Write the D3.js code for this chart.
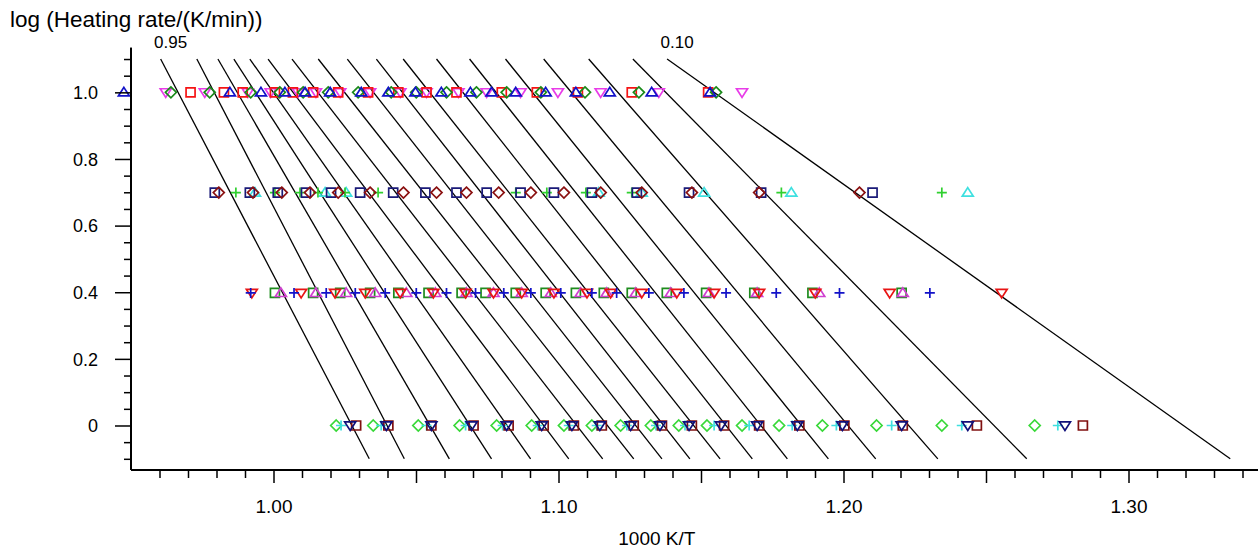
<!DOCTYPE html>
<html><head><meta charset="utf-8">
<script src="https://cdn.jsdelivr.net/npm/d3@7"></script>
<style>
body{margin:0;background:#fff}
svg{display:block}
text{font-family:"Liberation Sans",Arial,sans-serif;fill:#000}
</style></head>
<body><svg id="c" width="1258" height="552"></svg>
<script>
// ---------- data ----------
const conversions = ["0.95","0.90","0.85","0.80","0.75","0.70","0.65","0.60","0.55","0.50","0.45","0.40","0.35","0.30","0.25","0.20","0.15","0.10"];
// fitted iso-conversional lines: 1000/T where each line reaches log = 1.1 (top) and log = -0.1 (bottom)
const lineTopLog = 1.1, lineBottomLog = -0.1;
const lineTopX    = [0.9604,0.9731,0.9805,0.9861,0.9917,0.9981,1.0065,1.0157,1.0259,1.0361,1.0455,1.0572,1.0688,1.0814,1.0948,1.1106,1.1261,1.1381];
const lineBottomX = [1.0336,1.0459,1.0617,1.0765,1.0902,1.1036,1.1155,1.1264,1.1363,1.1461,1.1567,1.1680,1.1803,1.1947,1.2113,1.2331,1.2643,1.3357];
const labeledLines = ["0.95","0.10"];

const logRates = [1.0, 0.699, 0.398, 0.0];

// heating rate 10 K/min (log = 1.0)
const r10_square   = [0.9709,0.9826,0.9892,1.0005,1.0068,1.0139,1.0227,1.0332,1.0438,1.0537,1.0642,1.0801,1.0924,1.1068,1.1257,1.1525];
const r10_diamond  = [0.9640,0.9776,0.9920,1.0022,1.0104,1.0192,1.0297,1.0413,1.0501,1.0607,1.0712,1.0818,1.0938,1.1093,1.1282,1.1553];
const r10_triUp    = [0.9475,0.9847,0.9956,1.0040,1.0111,1.0199,1.0308,1.0403,1.0498,1.0589,1.0691,1.0765,1.0850,1.0955,1.1061,1.1180,1.1327,1.1532];
const r10_triDown  = [0.9622,0.9759,0.9910,0.9990,1.0086,1.0149,1.0234,1.0339,1.0445,1.0537,1.0649,1.0748,1.0867,1.0998,1.1148,1.1352,1.1644];
// heating rate 5 K/min (log = 0.699)
const r5_square    = [0.9794,0.9917,1.0015,1.0114,1.0202,1.0304,1.0420,1.0533,1.0642,1.0748,1.0867,1.0984,1.1117,1.1275,1.1458,1.1711,1.2102];
const r5_diamond   = [0.9808,0.9928,1.0029,1.0128,1.0227,1.0339,1.0456,1.0572,1.0677,1.0790,1.0903,1.1019,1.1148,1.1292,1.1468,1.1704,1.2056];
const r5_plus      = [0.9868,1.0005,1.0093,1.0156,1.0251,1.0367,1.0850,1.0959,1.1096,1.1257,1.1782,1.2345];
const r5_triUp     = [0.9935,1.0181,1.0255,1.1141,1.1292,1.1511,1.1817,1.2436];
// heating rate 2.5 K/min (log = 0.398)
const r25_square   = [1.0005,1.0139,1.0234,1.0339,1.0438,1.0544,1.0660,1.0744,1.0850,1.0955,1.1061,1.1159,1.1257,1.1380,1.1518,1.1687,1.1891,1.2204];
const r25_triDown  = [0.9924,1.0097,1.0216,1.0322,1.0445,1.0561,1.0674,1.0772,1.0871,1.0984,1.1100,1.1183,1.1292,1.1415,1.1546,1.1704,1.1901,1.2162,1.2555];
const r25_plus     = [0.9920,1.0072,1.0185,1.0287,1.0392,1.0501,1.0607,1.0709,1.0808,1.0903,1.1008,1.1117,1.1204,1.1317,1.1440,1.1588,1.1764,1.1986,1.2303];
const r25_triUp    = [1.0026,1.0149,1.0255,1.0357,1.0466,1.0568,1.0677,1.0772,1.0871,1.0973,1.1078,1.1169,1.1271,1.1394,1.1528,1.1697,1.1915,1.2208];
// heating rate 1 K/min (log = 0)
const r1_diamond   = [1.0220,1.0350,1.0508,1.0653,1.0783,1.0906,1.1019,1.1117,1.1218,1.1324,1.1422,1.1521,1.1644,1.1774,1.1926,1.2116,1.2345,1.2671];
const r1_plus      = [1.0237,1.0378,1.0537,1.0674,1.0804,1.0927,1.1036,1.1134,1.1240,1.1342,1.1444,1.1546,1.1669,1.1820,1.1975,1.2169,1.2415,1.2752];
const r1_triDown   = [1.0269,1.0396,1.0554,1.0695,1.0818,1.0941,1.1047,1.1145,1.1253,1.1356,1.1458,1.1570,1.1697,1.1838,1.1996,1.2204,1.2436,1.2777];
const r1_square    = [1.0290,1.0403,1.0554,1.0702,1.0825,1.0948,1.1054,1.1152,1.1264,1.1363,1.1468,1.1581,1.1704,1.1845,1.2003,1.2208,1.2468,1.2840];

const xTickLabels = ["1.00","1.10","1.20","1.30"];
const yTickLabels = ["0","0.2","0.4","0.6","0.8","1.0"];
const xTitle = "1000 K/T";
const yTitle = "log (Heating rate/(K/min))";

// ---------- series (drawing order bottom -> top) ----------
const series = [
  {values:r10_triDown, row:0, sym:"triDown", color:"#e83ce8"},
  {values:r10_square,  row:0, sym:"square",  color:"#f51414"},
  {values:r10_diamond, row:0, sym:"diamond", color:"#1a8a1a"},
  {values:r10_triUp,   row:0, sym:"triUp",   color:"#1212c8"},
  {values:r5_triUp,    row:1, sym:"triUp",   color:"#3ee0e0"},
  {values:r5_plus,     row:1, sym:"plus",    color:"#30d030"},
  {values:r5_square,   row:1, sym:"square",  color:"#1a1a78"},
  {values:r5_diamond,  row:1, sym:"diamond", color:"#8a1010"},
  {values:r25_square,  row:2, sym:"square",  color:"#1e8c1e"},
  {values:r25_triUp,   row:2, sym:"triUp",   color:"#d040d0"},
  {values:r25_triDown, row:2, sym:"triDown", color:"#e81414"},
  {values:r25_plus,    row:2, sym:"plus",    color:"#1212c8"},
  {values:r1_diamond,  row:3, sym:"diamond", color:"#38d838"},
  {values:r1_plus,     row:3, sym:"plus",    color:"#3ee0e0"},
  {values:r1_square,   row:3, sym:"square",  color:"#801010"},
  {values:r1_triDown,  row:3, sym:"triDown", color:"#10107a"}
];

// ---------- layout ----------
const W = 1258, H = 552;
const svg = d3.select("#c");
const x = d3.scaleLinear().domain([0.95, 1.35]).range([131, 1271]);
const y = d3.scaleLinear().domain([-0.1336, 1.134]).range([470, 47.7]);

function symPath(type, r){
  const p = d3.path();
  switch(type){
    case "square": p.rect(-r,-r,2*r,2*r); break;
    case "diamond": p.moveTo(0,-r-1); p.lineTo(r+1,0); p.lineTo(0,r+1); p.lineTo(-r-1,0); p.closePath(); break;
    case "triUp": p.moveTo(0,-r-0.5); p.lineTo(r+1,r*0.8); p.lineTo(-r-1,r*0.8); p.closePath(); break;
    case "triDown": p.moveTo(0,r+0.5); p.lineTo(r+1,-r*0.8); p.lineTo(-r-1,-r*0.8); p.closePath(); break;
    case "plus": p.moveTo(-r-0.5,0); p.lineTo(r+0.5,0); p.moveTo(0,-r-0.5); p.lineTo(0,r+0.5); break;
  }
  return p.toString();
}

// fitted lines
const lines = conversions.map((c,i)=>({c, x1:lineTopX[i], y1:lineTopLog, x2:lineBottomX[i], y2:lineBottomLog}));
svg.append("g").selectAll("line").data(lines).join("line")
  .attr("x1",d=>x(d.x1)).attr("y1",d=>y(d.y1))
  .attr("x2",d=>x(d.x2)).attr("y2",d=>y(d.y2))
  .attr("stroke","#000").attr("stroke-width",1.3);

svg.append("g").selectAll("text").data(lines.filter(d=>labeledLines.includes(d.c))).join("text")
  .attr("x",d=>x(d.x1)+10).attr("y",d=>y(d.y1)-11)
  .attr("text-anchor","middle").attr("font-size",17).text(d=>d.c);

// markers
const mk = svg.append("g");
series.forEach(s=>{
  mk.append("g").selectAll("path").data(s.values).join("path")
    .attr("transform",v=>`translate(${x(v)},${y(logRates[s.row])})`)
    .attr("d",symPath(s.sym,4.5))
    .attr("fill","none").attr("stroke",s.color).attr("stroke-width",1.7);
});

// x axis
const y0 = y.range()[0], x0 = x.range()[0];
const xMinor = d3.range(96,135).map(v=>v/100).filter(v=>Math.round(v*100)%5!==0);
const xMid = d3.range(20,27).map(v=>v*0.05);
const gx = svg.append("g").attr("transform",`translate(0,${y0})`);
gx.append("g").call(d3.axisBottom(x).tickValues(xMinor).tickSize(8).tickSizeOuter(0).tickFormat(""));
gx.append("g").call(d3.axisBottom(x).tickValues(xMid).tickSize(13).tickSizeOuter(0)
  .tickFormat(v=>{const s=v.toFixed(2); return xTickLabels.includes(s)?s:"";}));
gx.selectAll("path.domain").attr("stroke-width",2).attr("d",`M${x0},0H${W+20}`);
gx.selectAll(".tick line").attr("stroke-width",1.5);
gx.selectAll(".tick text").attr("font-size",19).attr("y",43).attr("dy",0)
  .attr("font-family","Liberation Sans, Arial, sans-serif");

// y axis
const yMinor = d3.range(-2,23).map(v=>v*0.05).filter(v=>Math.round(v*100)%20!==0);
const yMajor = d3.range(0,6).map(v=>v*0.2);
const gy = svg.append("g").attr("transform",`translate(${x0},0)`);
gy.append("g").call(d3.axisLeft(y).tickValues(yMinor).tickSize(7).tickSizeOuter(0).tickFormat(""));
gy.append("g").call(d3.axisLeft(y).tickValues(yMajor).tickSize(16).tickSizeOuter(0)
  .tickFormat((v,i)=>yTickLabels[i]));
gy.selectAll("path.domain").attr("stroke-width",2).attr("d",`M0,${y.range()[1]}V${y0}`);
gy.selectAll(".tick line").attr("stroke-width",1.5);
gy.selectAll(".tick text").attr("font-size",18).attr("x",-33).attr("dy","0.35em")
  .attr("font-family","Liberation Sans, Arial, sans-serif");

// titles
svg.append("text").attr("x",10).attr("y",27).attr("font-size",22.5).text(yTitle);
svg.append("text").attr("x",x(1.1345)).attr("y",545).attr("text-anchor","middle").attr("font-size",19).text(xTitle);
</script>
</body></html>
